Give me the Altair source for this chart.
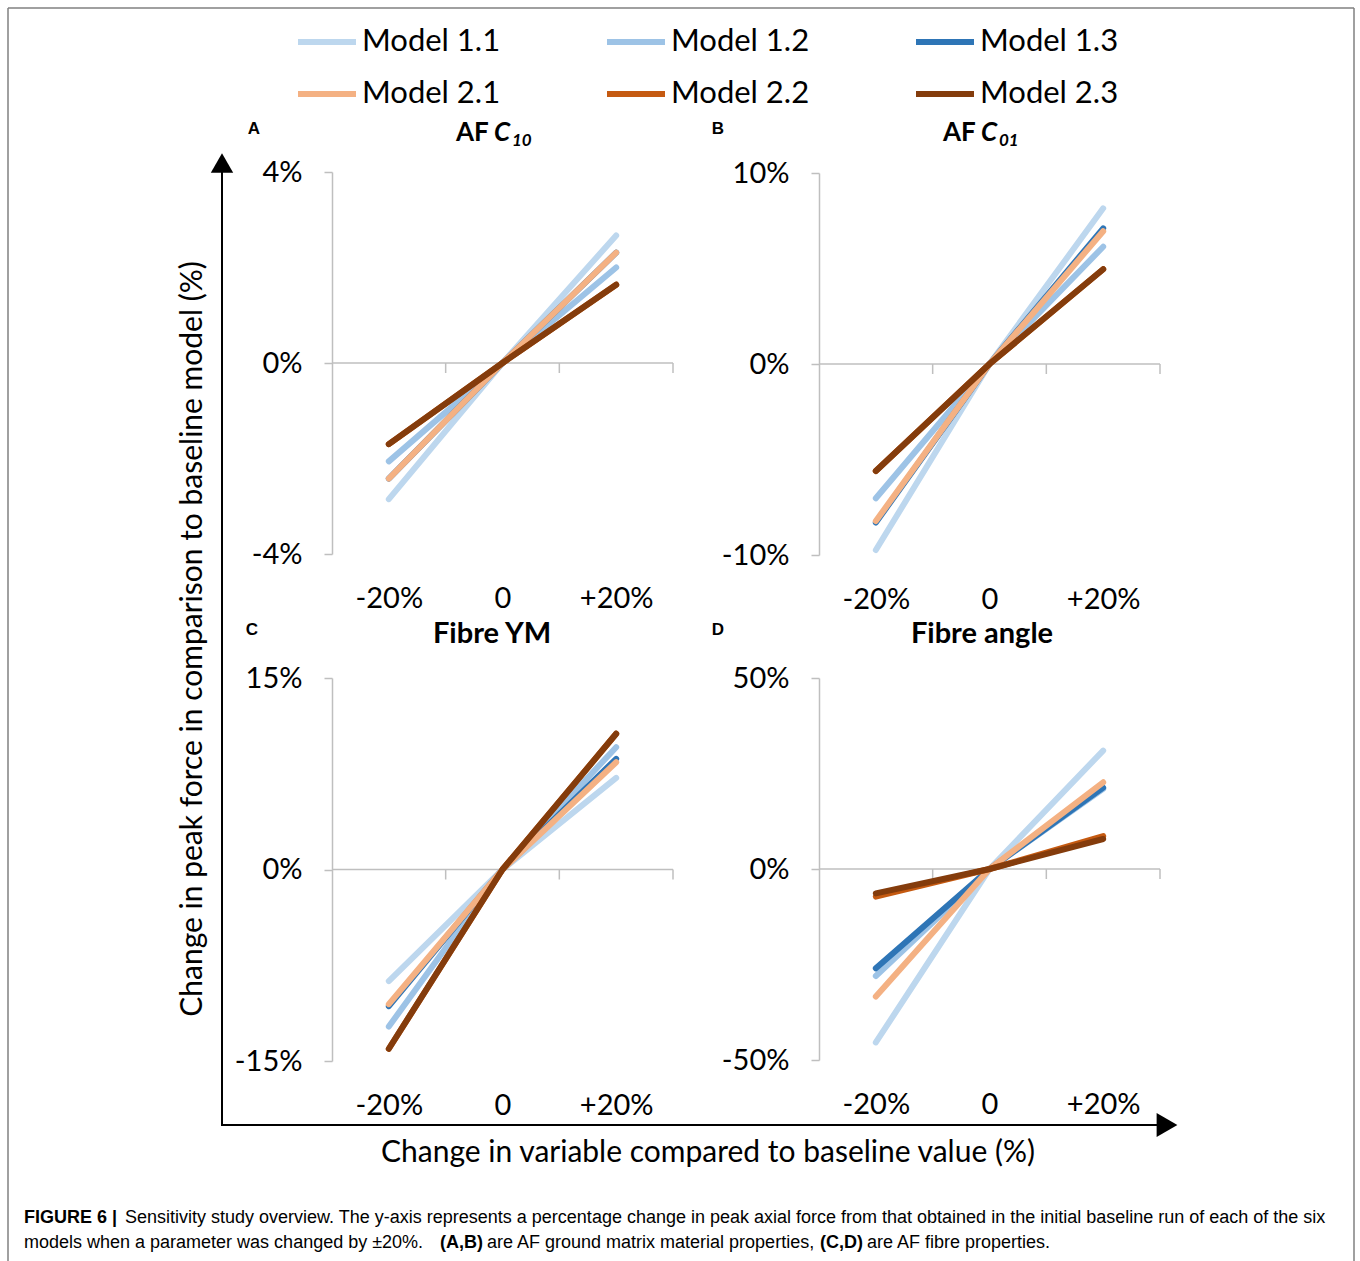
import altair as alt
import pandas as pd

# ---------------- data ----------------
steps = [-20, 0, 20]
step_labels = ["-20%", "0", "+20%"]
models = ["Model 1.1", "Model 1.2", "Model 1.3", "Model 2.1", "Model 2.2", "Model 2.3"]
colors = ["#bdd7ee", "#9dc3e6", "#2e75b6", "#f4b183", "#c55a11", "#843c0c"]

# panel A: AF C10  (values at -20%, 0, +20%)
a_m11 = [-2.85, 0, 2.67]
a_m12 = [-2.06, 0, 2.00]
a_m13 = [-2.42, 0, 2.31]
a_m21 = [-2.42, 0, 2.31]
a_m22 = [-1.70, 0, 1.64]
a_m23 = [-1.70, 0, 1.64]

# panel B: AF C01
b_m11 = [-9.74, 0, 8.15]
b_m12 = [-7.03, 0, 6.14]
b_m13 = [-8.30, 0, 7.10]
b_m21 = [-8.22, 0, 6.95]
b_m22 = [-5.60, 0, 4.96]
b_m23 = [-5.60, 0, 4.96]

# panel C: Fibre YM
c_m11 = [-8.74, 0, 7.18]
c_m12 = [-12.30, 0, 9.58]
c_m13 = [-10.70, 0, 8.67]
c_m21 = [-10.55, 0, 8.40]
c_m22 = [-14.04, 0, 10.63]
c_m23 = [-14.04, 0, 10.63]

# panel D: Fibre angle
d_m11 = [-45.4, 0, 31.0]
d_m12 = [-28.0, 0, 21.0]
d_m13 = [-26.0, 0, 21.3]
d_m21 = [-33.4, 0, 22.7]
d_m22 = [-7.24, 0, 8.6]
d_m23 = [-6.37, 0, 7.85]

y_limits = [4, 10, 15, 50]
cat_bounds = [-10, 10, 30]

# ---------------- style / layout ----------------
W, H = 1360, 1261
GREY = "#bfbfbf"
FONT = "Lato"
CAPFONT = "Liberation Sans"

legend = alt.Legend(
    orient="none", legendX=295, legendY=22, direction="horizontal", columns=3,
    title=None, symbolType="stroke", symbolSize=3364, symbolStrokeWidth=6,
    clipHeight=40, labelFont=FONT, labelFontSize=31, labelColor="black",
    labelOffset=3, columnPadding=103, rowPadding=12, symbolOpacity=1,
)

label_expr = "[" + ",".join(f"'{s}'" for s in step_labels) + "][indexof([" + \
    ",".join(str(s) for s in steps) + "], datum.value)]"


def panel(series, ymax, xr, yr):
    rows = []
    for m, vals in zip(models, series):
        for s, v in zip(steps, vals):
            rows.append({"model": m, "step": s, "value": v})
    df = pd.DataFrame(rows)
    xs = alt.Scale(domain=[-30, 30], range=xr, nice=False, zero=False)
    ys = alt.Scale(domain=[-ymax, ymax], range=yr, nice=False, zero=False)
    xaxis = alt.Axis(
        orient="bottom", offset=yr[0] - H, values=steps, labelExpr=label_expr,
        domain=False, ticks=False, tickSize=0, grid=False, labelPadding=44,
        labelBaseline="middle", labelFont=FONT, labelFontSize=29,
        labelColor="black", labelOverlap=False, labelFlush=False, title=None,
    )
    yaxis = alt.Axis(
        orient="left", offset=-xr[0], values=[-ymax, 0, ymax],
        labelExpr="datum.value + '%'", tickSize=8, tickWidth=1.5,
        tickColor=GREY, domainColor=GREY, domainWidth=1.5, grid=False,
        labelPadding=22, labelFont=FONT, labelFontSize=29, labelColor="black",
        labelOverlap=False, title=None,
    )
    lines = alt.Chart(df).mark_line(
        strokeWidth=6, strokeCap="round", strokeJoin="round"
    ).encode(
        x=alt.X("step:Q", scale=xs, axis=xaxis),
        y=alt.Y("value:Q", scale=ys, axis=yaxis),
        color=alt.Color("model:N", scale=alt.Scale(domain=models, range=colors),
                        legend=legend, sort=models),
    )
    zero = alt.Chart(pd.DataFrame({"a": [-30], "b": [30], "z": [0]})).mark_rule(
        color=GREY, strokeWidth=1.5
    ).encode(
        x=alt.X("a:Q", scale=xs, axis=xaxis), x2="b:Q",
        y=alt.Y("z:Q", scale=ys, axis=yaxis),
    )
    ticks = alt.Chart(pd.DataFrame({"t": cat_bounds, "z": [0] * len(cat_bounds)})).mark_tick(
        orient="vertical", size=10, thickness=1.5, yOffset=5, color=GREY, opacity=1
    ).encode(
        x=alt.X("t:Q", scale=xs, axis=xaxis),
        y=alt.Y("z:Q", scale=ys, axis=yaxis),
    )
    return alt.layer(zero, ticks, lines)


pA = panel([a_m11, a_m12, a_m13, a_m21, a_m22, a_m23], y_limits[0], [332, 673], [554, 172])
pB = panel([b_m11, b_m12, b_m13, b_m21, b_m22, b_m23], y_limits[1], [819, 1160], [555, 173])
pC = panel([c_m11, c_m12, c_m13, c_m21, c_m22, c_m23], y_limits[2], [332, 673], [1061, 678])
pD = panel([d_m11, d_m12, d_m13, d_m21, d_m22, d_m23], y_limits[3], [819, 1160], [1060, 678])

one = pd.DataFrame({"k": [0]})


def txt(s, x, y, size, weight="normal", style="normal", align="left",
        baseline="middle", angle=0, font=FONT):
    return alt.Chart(one).mark_text(
        text=s, fontSize=size, fontWeight=weight, fontStyle=style, align=align,
        baseline=baseline, angle=angle, font=font, color="black",
    ).encode(x=alt.value(x), y=alt.value(y))


def rule(x, y, x2=None, y2=None, color="black", width=2):
    enc = {"x": alt.value(x), "y": alt.value(y)}
    if x2 is not None:
        enc["x2"] = alt.value(x2)
    if y2 is not None:
        enc["y2"] = alt.value(y2)
    return alt.Chart(one).mark_rule(color=color, strokeWidth=width).encode(**enc)


def arrow(shape, x, y, size):
    return alt.Chart(one).mark_point(
        shape=shape, filled=True, size=size, color="black", opacity=1
    ).encode(x=alt.value(x), y=alt.value(y))


annotations = [
    # border
    rule(8, 8, y2=1300, color="#808080", width=1.5),
    rule(1354, 8, y2=1300, color="#808080", width=1.5),
    rule(8, 8, x2=1354, color="#808080", width=1.5),
    # big axes arrows
    rule(222, 168, y2=1126),
    rule(221, 1125, x2=1160),
    arrow("triangle-up", 222, 163, 500),
    arrow("triangle-right", 1167, 1125, 576),
    # panel letters
    txt("A", 254, 129, 17, weight="bold", align="center", font=CAPFONT),
    txt("B", 718, 129, 17, weight="bold", align="center", font=CAPFONT),
    txt("C", 252, 630, 17, weight="bold", align="center", font=CAPFONT),
    txt("D", 718, 630, 17, weight="bold", align="center", font=CAPFONT),
    # panel titles
    txt("AF", 456, 141, 26, weight="bold", baseline="alphabetic"),
    txt("C", 494, 141, 26, weight="bold", style="italic", baseline="alphabetic"),
    txt("10", 512, 146, 17, weight="bold", style="italic", baseline="alphabetic"),
    txt("AF", 943, 141, 26, weight="bold", baseline="alphabetic"),
    txt("C", 981, 141, 26, weight="bold", style="italic", baseline="alphabetic"),
    txt("01", 999, 146, 17, weight="bold", style="italic", baseline="alphabetic"),
    txt("Fibre YM", 492, 643, 29, weight="bold", align="center", baseline="alphabetic"),
    txt("Fibre angle", 982, 643, 29, weight="bold", align="center", baseline="alphabetic"),
    # axis titles
    txt("Change in peak force in comparison to baseline model (%)", 193, 639, 30,
        align="center", angle=270),
    txt("Change in variable compared to baseline value (%)", 708, 1153, 30,
        align="center"),
    # caption
    txt("FIGURE 6 |", 24, 1218, 18, weight="bold", font=CAPFONT),
    txt("Sensitivity study overview. The y-axis represents a percentage change in peak "
        "axial force from that obtained in the initial baseline run of each of the six",
        125, 1218, 18, font=CAPFONT),
    txt("models when a parameter was changed by \u00b120%.", 24, 1243, 18, font=CAPFONT),
    txt("(A,B)", 440, 1243, 18, weight="bold", font=CAPFONT),
    txt("are AF ground matrix material properties,", 487, 1243, 18, font=CAPFONT),
    txt("(C,D)", 820, 1243, 18, weight="bold", font=CAPFONT),
    txt("are AF fibre properties.", 867, 1243, 18, font=CAPFONT),
]

chart = alt.layer(pA, pB, pC, pD, *annotations).resolve_scale(
    x="independent", y="independent"
).properties(
    width=W, height=H, autosize=alt.AutoSizeParams(type="none"), padding=0,
    background="white",
).configure_view(stroke=None)

chart.save("out.html", embed_options={"renderer": "svg", "actions": False})
